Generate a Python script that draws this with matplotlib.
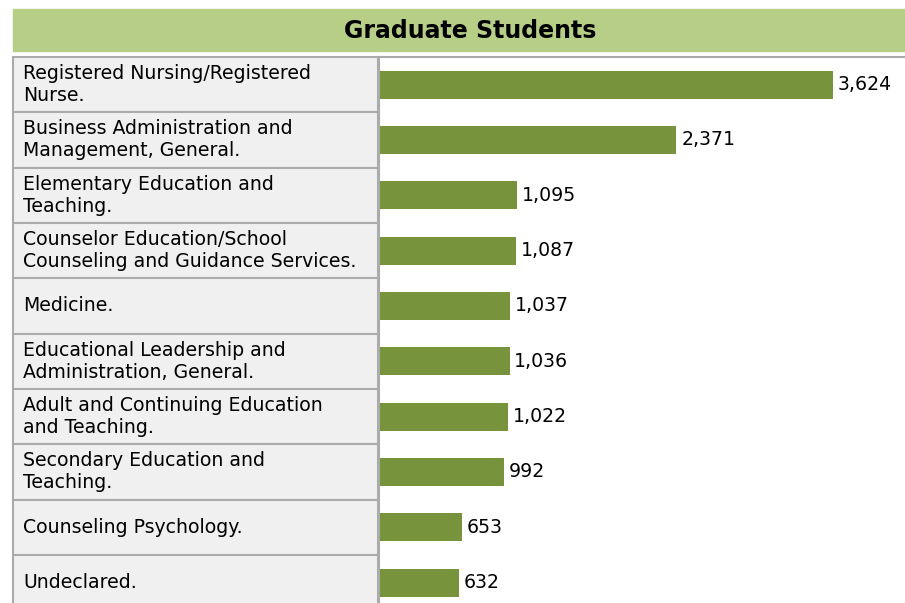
import matplotlib
matplotlib.use('Agg')
import matplotlib.pyplot as plt
from matplotlib.patches import Rectangle

# data
programs = [
    'Registered Nursing/Registered\nNurse.',
    'Business Administration and\nManagement, General.',
    'Elementary Education and\nTeaching.',
    'Counselor Education/School\nCounseling and Guidance Services.',
    'Medicine.',
    'Educational Leadership and\nAdministration, General.',
    'Adult and Continuing Education\nand Teaching.',
    'Secondary Education and\nTeaching.',
    'Counseling Psychology.',
    'Undeclared.',
]
students = [3624, 2371, 1095, 1087, 1037, 1036, 1022, 992, 653, 632]
title = 'Graduate Students'

W, H = 905, 603
bar_color = '#77933C'
head_color = '#B6CE86'
cell_color = '#F0F0F0'
line_color = '#ABABAB'
row_h = 55.33
top = 57

plt.rcParams['font.family'] = 'DejaVu Sans'
fig = plt.figure(figsize=(W / 100, H / 100), dpi=100)

def fx(px):
    return px / W

def fy(py):
    return 1 - py / H

# header band
fig.patches.append(Rectangle((fx(13), fy(51)), fx(905 - 13), (51 - 9) / H,
                             transform=fig.transFigure, color=head_color, zorder=0))
fig.text(fx(470), fy(31), title, ha='center', va='center', fontsize=17,
         fontweight='bold', color='black')

n = len(programs)
ylo = -0.5
yhi = -0.5 + (H - top) / row_h

# label column
lab = fig.add_axes([fx(13), 0, fx(378 - 13), fy(top)])
lab.set_xlim(0, 1)
lab.set_ylim(yhi, ylo)
lab.axis('off')
for i, name in enumerate(programs):
    lab.add_patch(Rectangle((0, i - 0.5), 1, 1, facecolor=cell_color,
                            edgecolor=line_color, linewidth=1.5, clip_on=False))
    lab.text(10 / (378 - 13), i, name, ha='left', va='center', fontsize=13.6,
             linespacing=1.2)

# bars
ax = fig.add_axes([fx(380), 0, fx(W - 380), fy(top)])
ax.barh(range(n), students, height=0.51, color=bar_color)
ax.set_xlim(0, (W - 380) / 0.125)
ax.set_ylim(yhi, ylo)
for s in ['right', 'bottom', 'left']:
    ax.spines[s].set_visible(False)
ax.spines['top'].set_color(line_color)
ax.spines['top'].set_linewidth(1.5)
ax.set_xticks([])
ax.set_yticks([])
for i, v in enumerate(students):
    ax.annotate(f'{v:,}', (v, i), xytext=(3.5, 0), textcoords='offset points',
                ha='left', va='center', fontsize=13.6)

fig.lines.append(plt.Line2D([fx(379), fx(379)], [0, fy(top)], color=line_color,
                            linewidth=1.5, transform=fig.transFigure))

fig.savefig('out.png', dpi=100)
